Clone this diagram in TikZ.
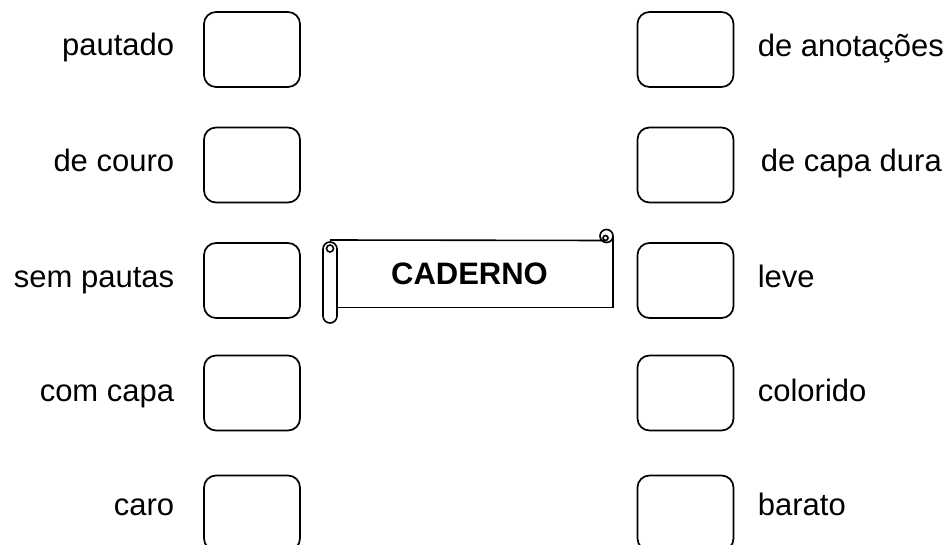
\documentclass[tikz,border=0pt]{standalone}
\usepackage{fontspec}
\setmainfont{Liberation Sans}
\begin{document}
\begin{tikzpicture}[x=1pt,y=-1pt,line width=1.7pt,
  lbl/.style={inner sep=0pt,font=\fontsize{31}{36}\selectfont},
  tickbox/.style={draw,rounded corners=12pt,minimum width=96pt,minimum height=75pt,inner sep=0pt},
  scrollline/.style={line width=1.6pt}]
\useasboundingbox (0,0) rectangle (949,545);
% left boxes
\node[tickbox] (L1) at (252,49.5) {};
\node[tickbox] (L2) at (252,165) {};
\node[tickbox] (L3) at (252,280.5) {};
\node[tickbox] (L4) at (252,393) {};
\node[tickbox] (L5) at (252,513) {};
% right boxes
\node[tickbox] (R1) at (685.5,49.5) {};
\node[tickbox] (R2) at (685.5,165) {};
\node[tickbox] (R3) at (685.5,280.5) {};
\node[tickbox] (R4) at (685.5,393) {};
\node[tickbox] (R5) at (685.5,513) {};
% left labels
\node[lbl,anchor=base east] (l1) at (175,56) {pautado};
\node[lbl,anchor=base east] (l2) at (175,172) {de couro};
\node[lbl,anchor=base east] (l3) at (175,287) {sem pautas};
\node[lbl,anchor=base east] (l4) at (175,401) {com capa};
\node[lbl,anchor=base east] (l5) at (175,515) {caro};
% right labels
\node[lbl,anchor=base west] (r1) at (757,57) {de anota\c{c}\~oes};
\node[lbl,anchor=base west] (r2) at (760,172) {de capa dura};
\node[lbl,anchor=base west] (r3) at (757,287) {leve};
\node[lbl,anchor=base west] (r4) at (757,401) {colorido};
\node[lbl,anchor=base west] (r5) at (757,515) {barato};
% scroll
\draw[scrollline] (330,240) -- (606.5,240.5);
\draw[scrollline] (613,236) -- (613,307.5) -- (337,307.5);
\draw[scrollline] (606.5,236) circle (6.5);
\draw[scrollline] (605.5,238) circle (2.5);
\draw[scrollline,fill=white] (323,249) arc(180:360:7) -- (337,316) arc(0:180:7) -- cycle;
\draw[scrollline] (330,248.5) circle (3.5);
\node[inner sep=0pt,anchor=base,font=\fontsize{31}{36}\selectfont\bfseries] (cad) at (469.5,284) {CADERNO};
\end{tikzpicture}
\end{document}
